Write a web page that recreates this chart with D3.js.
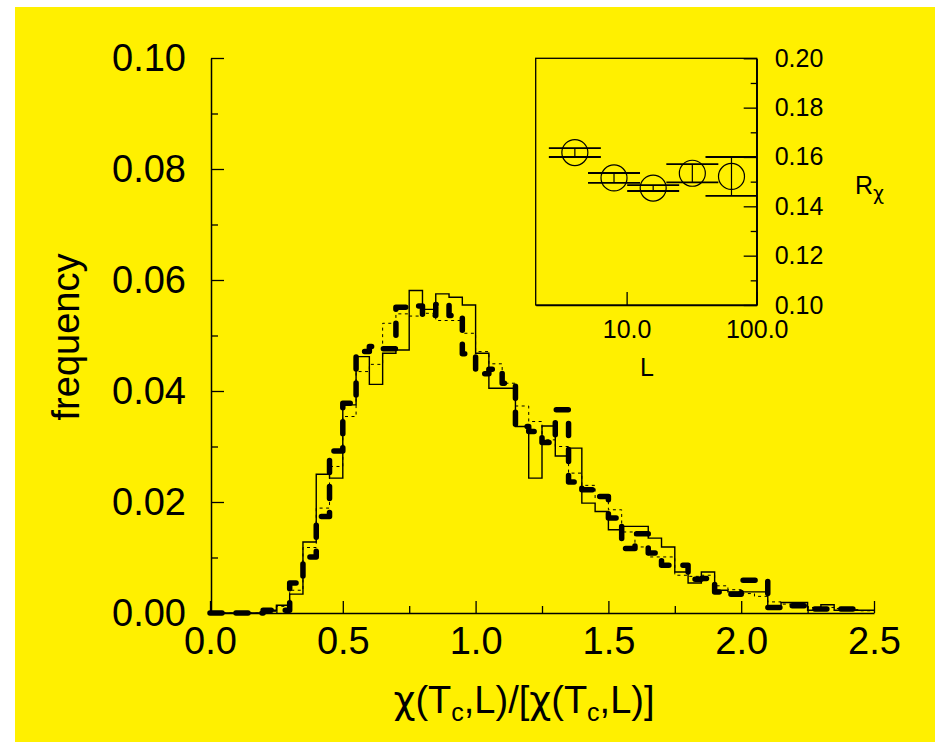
<!DOCTYPE html>
<html>
<head>
<meta charset="utf-8">
<script src="https://cdn.jsdelivr.net/npm/d3@7"></script>
<style>
  html, body { margin: 0; padding: 0; background: #ffffff; }
  svg { display: block; font-family: "Liberation Sans", Arial, Helvetica, sans-serif; }
  .chi { font-family: "DejaVu Sans", "Noto Sans", sans-serif; }
</style>
</head>
<body>
<svg id="chart" width="942" height="749"></svg>
<script>
// Histogram bins: width 0.05 starting at 0
const binWidth = 0.05;

// Thin solid histogram
const freqSolid = [
  0, 0, 0, 0, 0.0005,
  0.0014, 0.0034, 0.0128, 0.0250, 0.0243,
  0.0375, 0.0462, 0.0412, 0.0468, 0.0474,
  0.0581, 0.0547, 0.0575, 0.0569, 0.0555,
  0.0468, 0.0405, 0.0405, 0.0336, 0.0243,
  0.0337, 0.0283, 0.0297, 0.0198, 0.0183,
  0.0150, 0.0156, 0.0156, 0.0135, 0.0119,
  0.0074, 0.0054, 0.0074, 0.0041, 0.0038,
  0.0038, 0.0038, 0.0011, 0.0019, 0.0019,
  0.0005, 0.0015, 0.0005, 0.0005, 0.0005
];

// Thin dotted histogram
const freqDotted = [
  0, 0, 0, 0, 0.0003,
  0.0012, 0.0041, 0.0118, 0.0189, 0.0264,
  0.0354, 0.0435, 0.0448, 0.0522, 0.0539,
  0.0535, 0.0540, 0.0527, 0.0527, 0.0504,
  0.0471, 0.0449, 0.0414, 0.0373, 0.0345,
  0.0312, 0.0300, 0.0252, 0.0230, 0.0207,
  0.0186, 0.0146, 0.0119, 0.0101, 0.0101,
  0.0068, 0.0066, 0.0068, 0.0049, 0.0042,
  0.0035, 0.0030, 0.0020, 0.0016, 0.0014,
  0.0010, 0.0010, 0.0008, 0.0006, 0.0004
];

// Thick dashed histogram (ends at 2.45)
const freqThick = [
  0, 0, 0, 0, 0.0005,
  0.0005, 0.0054, 0.0101, 0.0174, 0.0292,
  0.0378, 0.0471, 0.0480, 0.0476, 0.0551,
  0.0553, 0.0536, 0.0556, 0.0536, 0.0467,
  0.0431, 0.0439, 0.0414, 0.0336, 0.0327,
  0.0307, 0.0366, 0.0236, 0.0222, 0.0210,
  0.0171, 0.0116, 0.0143, 0.0108, 0.0086,
  0.0086, 0.0061, 0.0062, 0.0038, 0.0034,
  0.0059, 0.0059, 0.0010, 0.0013, 0.0013,
  0.0007, 0.0007, 0.0007, 0.0007
];

const xTicks = [0, 0.5, 1.0, 1.5, 2.0, 2.5];
const xMinorTicks = [0.25, 0.75, 1.25, 1.75, 2.25];
const yTicks = [0, 0.02, 0.04, 0.06, 0.08, 0.10];
const yMinorTicks = [0.01, 0.03, 0.05, 0.07, 0.09];

// Inset: ratio R_chi against system size L
const sizesL = [4, 8, 16, 32, 64];
const ratioR = [0.1618, 0.1515, 0.1474, 0.1534, 0.1521];
const ratioErr = [0.0018, 0.0020, 0.0012, 0.0037, 0.0079];
const insetYTicks = [0.10, 0.12, 0.14, 0.16, 0.18, 0.20];
const insetYMinorTicks = [0.11, 0.13, 0.15, 0.17, 0.19];
const insetXTicks = [10, 100];

const svg = d3.select("#chart");

// yellow page
svg.append("rect")
  .attr("x", 15).attr("y", 7)
  .attr("width", 920).attr("height", 735)
  .attr("fill", "#fff000");

// ---------- main histogram ----------
const x = d3.scaleLinear().domain([0, 2.5]).range([210, 874]);
const y = d3.scaleLinear().domain([0, 0.10]).range([613, 58]);

function stepPoints(vals, dropAtEnd) {
  const pts = vals.map((v, i) => [i * binWidth, v]);
  const end = vals.length * binWidth;
  pts.push([end, vals[vals.length - 1]]);
  if (dropAtEnd) pts.push([end, 0]);
  return pts;
}

const stepLine = d3.line()
  .x(d => x(d[0]))
  .y(d => y(d[1]))
  .curve(d3.curveStepAfter);

const plot = svg.append("g");

plot.append("path")
  .attr("d", stepLine(stepPoints(freqDotted, false)))
  .attr("fill", "none")
  .attr("stroke", "#000")
  .attr("stroke-width", 1)
  .attr("stroke-dasharray", "3,3.5");

plot.append("path")
  .attr("d", stepLine(stepPoints(freqSolid, false)))
  .attr("fill", "none")
  .attr("stroke", "#000")
  .attr("stroke-width", 1.4);

plot.append("path")
  .attr("d", stepLine(stepPoints(freqThick, true)))
  .attr("fill", "none")
  .attr("stroke", "#000")
  .attr("stroke-width", 5.5)
  .attr("stroke-linecap", "round")
  .attr("stroke-linejoin", "round")
  .attr("stroke-dasharray", "12,14");

function styleAxis(g, fontSize) {
  g.select(".domain").attr("stroke", "#000").attr("stroke-width", 1.5);
  g.selectAll(".tick line").attr("stroke", "#000").attr("stroke-width", 1.3);
  g.selectAll(".tick text")
    .attr("fill", "#000")
    .style("font-size", fontSize + "px")
    .style("font-family", '"Liberation Sans", Arial, sans-serif');
}

// x axis
const gx = svg.append("g").attr("transform", "translate(0,613)")
  .call(d3.axisBottom(x).tickValues(xTicks).tickFormat(d3.format(".1f"))
    .tickSizeInner(-12).tickSizeOuter(0).tickPadding(14));
styleAxis(gx, 38);
const gxm = svg.append("g").attr("transform", "translate(0,613)")
  .call(d3.axisBottom(x).tickValues(xMinorTicks).tickFormat("")
    .tickSizeInner(-7).tickSizeOuter(0));
styleAxis(gxm, 38);
gxm.select(".domain").remove();

// y axis
const gy = svg.append("g").attr("transform", "translate(211,0)")
  .call(d3.axisLeft(y).tickValues(yTicks).tickFormat(d3.format(".2f"))
    .tickSizeInner(-13).tickSizeOuter(0).tickPadding(25));
styleAxis(gy, 38);
const gym = svg.append("g").attr("transform", "translate(211,0)")
  .call(d3.axisLeft(y).tickValues(yMinorTicks).tickFormat("")
    .tickSizeInner(-7).tickSizeOuter(0));
styleAxis(gym, 38);
gym.select(".domain").remove();

// axis titles
svg.append("text")
  .attr("transform", "translate(79,337) rotate(-90)")
  .attr("text-anchor", "middle")
  .style("font-size", "38px")
  .text("frequency");

const xt = svg.append("text")
  .attr("x", 524).attr("y", 713)
  .attr("text-anchor", "middle")
  .style("font-size", "38px");
xt.append("tspan").attr("class", "chi").text("\u03C7");
xt.append("tspan").text("(T");
xt.append("tspan").attr("dy", 8).style("font-size", "25px").text("c");
xt.append("tspan").attr("dy", -8).text(",L)/[");
xt.append("tspan").attr("class", "chi").text("\u03C7");
xt.append("tspan").text("(T");
xt.append("tspan").attr("dy", 8).style("font-size", "25px").text("c");
xt.append("tspan").attr("dy", -8).text(",L)]");

// ---------- inset ----------
const ix = d3.scaleLog().domain([2, 100]).range([535.7, 756.7]);
const iy = d3.scaleLinear().domain([0.10, 0.20]).range([305, 58.3]);

svg.append("rect")
  .attr("x", 535.7).attr("y", 58.3)
  .attr("width", 221).attr("height", 246.7)
  .attr("fill", "none").attr("stroke", "#000").attr("stroke-width", 1.3);

const giy = svg.append("g").attr("transform", "translate(756.7,0)")
  .call(d3.axisRight(iy).tickValues(insetYTicks).tickFormat(d3.format(".2f"))
    .tickSizeInner(-13).tickSizeOuter(0).tickPadding(18));
styleAxis(giy, 25);
const giym = svg.append("g").attr("transform", "translate(756.7,0)")
  .call(d3.axisRight(iy).tickValues(insetYMinorTicks).tickFormat("")
    .tickSizeInner(-6).tickSizeOuter(0));
styleAxis(giym, 25);
giym.select(".domain").remove();

const gix = svg.append("g").attr("transform", "translate(0,305)")
  .call(d3.axisBottom(ix).tickValues(insetXTicks).tickFormat(d3.format(".1f"))
    .tickSizeInner(-13).tickSizeOuter(0).tickPadding(15));
styleAxis(gix, 25);

// error bars with wide caps, and open circles
const capHalf = 26;
const pts = sizesL.map((L, i) => ({ L, r: ratioR[i], e: ratioErr[i] }));
const ins = svg.append("g");
pts.forEach(p => {
  const cx = ix(p.L);
  ins.append("line")
    .attr("x1", cx).attr("x2", cx)
    .attr("y1", iy(p.r + p.e)).attr("y2", iy(p.r - p.e))
    .attr("stroke", "#000").attr("stroke-width", 1.2);
  [p.r + p.e, p.r - p.e].forEach(v => {
    ins.append("line")
      .attr("x1", cx - capHalf).attr("x2", Math.min(cx + capHalf, 756.7))
      .attr("y1", iy(v)).attr("y2", iy(v))
      .attr("stroke", "#000").attr("stroke-width", 1.8);
  });
  ins.append("circle")
    .attr("cx", cx).attr("cy", iy(p.r)).attr("r", 13)
    .attr("fill", "none").attr("stroke", "#000").attr("stroke-width", 1.2);
});

svg.append("text")
  .attr("x", 647).attr("y", 376)
  .attr("text-anchor", "middle")
  .style("font-size", "25px")
  .text("L");

const rl = svg.append("text")
  .attr("x", 855).attr("y", 194)
  .style("font-size", "25px");
rl.append("tspan").text("R");
rl.append("tspan").attr("class", "chi").attr("dy", 6).style("font-size", "19px").text("\u03C7");
</script>
</body>
</html>
